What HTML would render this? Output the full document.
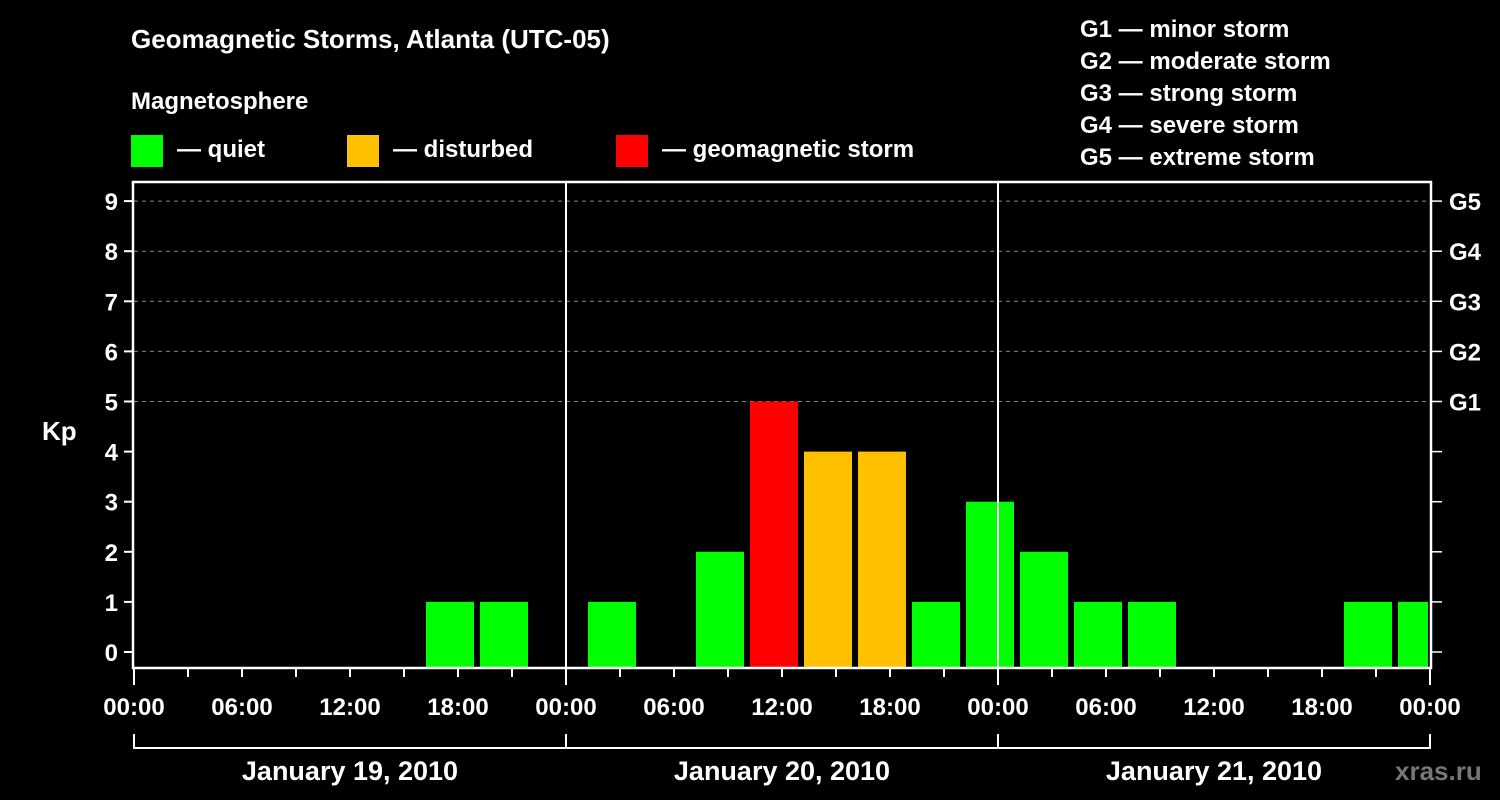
<!DOCTYPE html>
<html><head><meta charset="utf-8"><style>
html,body{margin:0;padding:0;background:#000;}
svg{display:block;font-family:"Liberation Sans",Arial,sans-serif;font-weight:bold;}
</style></head><body>
<svg id="chart" width="1500" height="800" viewBox="0 0 1500 800">
<rect width="1500" height="800" fill="#000"/>
<text x="131" y="48" fill="#fff" font-size="26">Geomagnetic Storms, Atlanta (UTC-05)</text>
<text x="131" y="109" fill="#fff" font-size="24">Magnetosphere</text>
<g><rect x="131" y="135" width="32" height="32" fill="#00ff00"/><text x="177" y="157" fill="#fff" font-size="24">— quiet</text></g>
<g><rect x="347" y="135" width="32" height="32" fill="#ffc000"/><text x="393" y="157" fill="#fff" font-size="24">— disturbed</text></g>
<g><rect x="616" y="135" width="32" height="32" fill="#ff0000"/><text x="662" y="157" fill="#fff" font-size="24">— geomagnetic storm</text></g>
<g fill="#fff" font-size="24">
<text x="1080" y="37">G1 — minor storm</text>
<text x="1080" y="69">G2 — moderate storm</text>
<text x="1080" y="101">G3 — strong storm</text>
<text x="1080" y="133">G4 — severe storm</text>
<text x="1080" y="165">G5 — extreme storm</text>
</g>
<text x="42" y="440" fill="#fff" font-size="26">Kp</text>
<text x="1395" y="780" fill="#777" font-size="26">xras.ru</text>
<g id="plot"></g>
</svg>
<script>
const kpValues = [0,0,0,0,0,1,1,0, 1,0,2,5,4,4,1,3, 2,1,1,0,0,0,1,1];
const binStartHours = [1,4,7,10,13,16,19,22, 25,28,31,34,37,40,43,46, 49,52,55,58,61,64,67,70];
const hourLabels = ["00:00","06:00","12:00","18:00","00:00","06:00","12:00","18:00","00:00","06:00","12:00","18:00","00:00"];
const dayLabels = ["January 19, 2010","January 20, 2010","January 21, 2010"];
const gLabels = ["G1","G2","G3","G4","G5"];
const NS="http://www.w3.org/2000/svg";
const g=document.getElementById('plot');
const X0=134,X1=1430,Y0=652,PX=50.1,TOP=182,BOT=668;
const xs=h=>X0+h*(X1-X0)/72;
const ys=v=>Y0-v*PX;
function mk(t,a){const e=document.createElementNS(NS,t);for(const k in a)e.setAttribute(k,a[k]);g.appendChild(e);return e;}
// grid
for(let k=5;k<=9;k++){const e=mk('line',{x1:X0,x2:X1,y1:ys(k),y2:ys(k),stroke:'#888','stroke-width':1,'stroke-dasharray':'4,4'});

}
// bars
kpValues.forEach((v,i)=>{if(v<=0)return;
const s=xs(binStartHours[i]);const x=s+4;let w=48;if(x+w>X1-2)w=X1-2-x;
const c=v>=5?'#ff0000':(v>=4?'#ffc000':'#00ff00');
const r=mk('rect',{x:x,y:ys(v),width:w,height:BOT-ys(v),fill:c});

});
// day separators
[1,2].forEach(d=>{const e=mk('line',{x1:xs(24*d),x2:xs(24*d),y1:TOP,y2:BOT,stroke:'#fff','stroke-width':2});

});
// frame
const f=mk('rect',{x:X0-1,y:TOP,width:X1-X0+2,height:BOT-TOP,fill:'none',stroke:'#fff','stroke-width':2.5});


// y ticks
for(let k=0;k<=9;k++){
mk('line',{x1:X0-10,x2:X0,y1:ys(k),y2:ys(k),stroke:'#fff','stroke-width':2});
mk('line',{x1:X1,x2:X1+12,y1:ys(k),y2:ys(k),stroke:'#fff','stroke-width':1.5});
const t=mk('text',{x:118,y:ys(k)+9,fill:'#fff','font-size':24,'text-anchor':'end'});t.textContent=k;

}
gLabels.forEach((l,i)=>{const t=mk('text',{x:1449,y:ys(5+i)+9,fill:'#fff','font-size':24});t.textContent=l;

});
// x ticks
for(let h=0;h<=72;h+=3){const maj=h%24===0;
mk('line',{x1:xs(h),x2:xs(h),y1:BOT,y2:BOT+(maj?17:9),stroke:'#fff','stroke-width':2});}
hourLabels.forEach((l,i)=>{const t=mk('text',{x:xs(i*6),y:715,fill:'#fff','font-size':24,'text-anchor':'middle'});t.textContent=l;

});
// bracket
mk('line',{x1:X0,x2:X1,y1:748,y2:748,stroke:'#fff','stroke-width':2});
for(let d=0;d<=3;d++)mk('line',{x1:xs(24*d),x2:xs(24*d),y1:734,y2:749,stroke:'#fff','stroke-width':2});
dayLabels.forEach((l,i)=>{const t=mk('text',{x:xs(24*i+12),y:780,fill:'#fff','font-size':27,'text-anchor':'middle'});t.textContent=l;

});
</script>
</body></html>
